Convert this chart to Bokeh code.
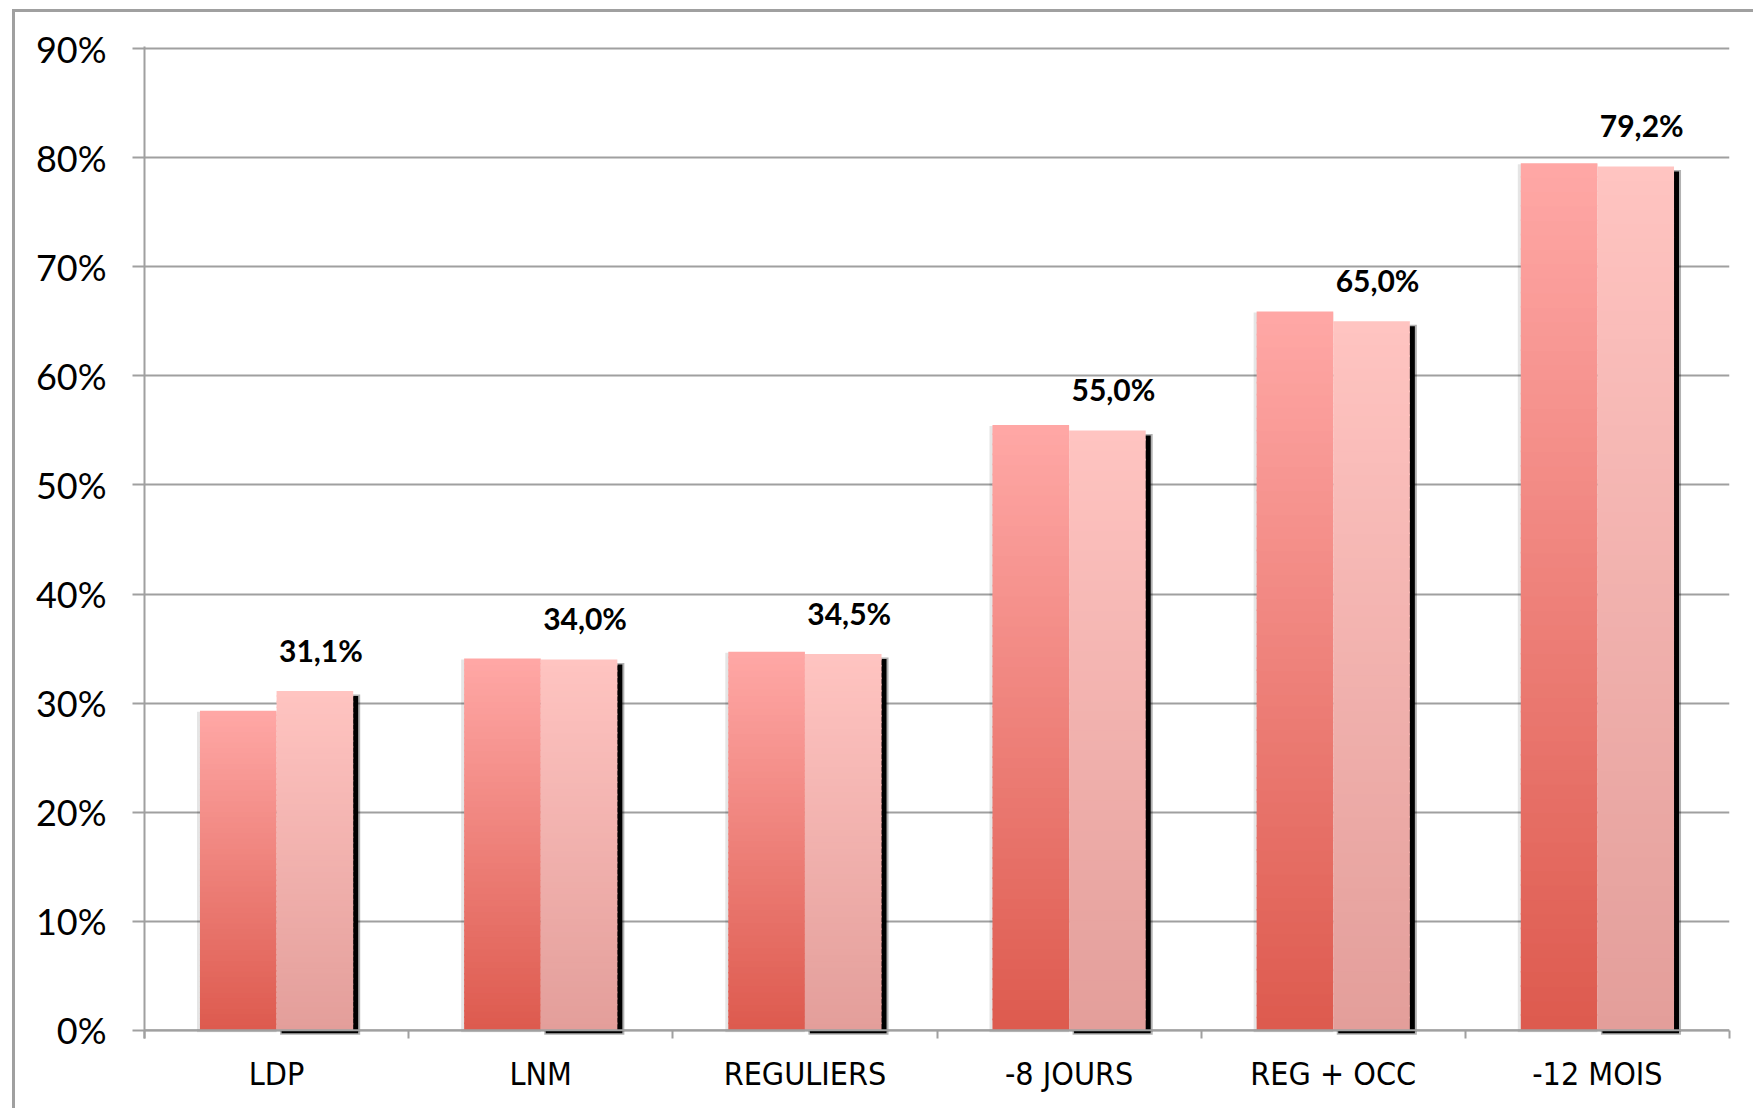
from bokeh.plotting import figure
from bokeh.models import FixedTicker, Span, ColumnDataSource
from bokeh.core.properties import value
from bokeh.embed import file_html
from bokeh.resources import INLINE

categories = ["LDP", "LNM", "REGULIERS", "-8 JOURS", "REG + OCC", "-12 MOIS"]
series_a = [29.3, 34.1, 34.7, 55.5, 65.9, 79.5]
series_b = [31.1, 34.0, 34.5, 55.0, 65.0, 79.2]
labels_b = ["31,1%", "34,0%", "34,5%", "55,0%", "65,0%", "79,2%"]
y_ticks = [0, 10, 20, 30, 40, 50, 60, 70, 80, 90]
y_tick_labels = ["0%", "10%", "20%", "30%", "40%", "50%", "60%", "70%", "80%", "90%"]

FRAME_W, FRAME_H = 1585, 992
Y0, Y1 = -0.75, 90.2
PX_X = FRAME_W / 6.0
PX_Y = FRAME_H / (Y1 - Y0)
BW = 0.29

A_TOP, A_BOT = (255, 168, 166), (221, 90, 78)
B_TOP, B_BOT = (255, 196, 193), (227, 158, 154)

p = figure(frame_width=FRAME_W, frame_height=FRAME_H,
           x_range=(0, 6), y_range=(Y0, Y1),
           output_backend="svg", toolbar_location=None,
           min_border_left=129, min_border_top=34, min_border_right=24, min_border_bottom=70)
p.styles = {"margin-left": "12px", "margin-top": "9px",
            "border-left": "3px solid #A0A0A0", "border-top": "3px solid #A0A0A0"}
p.outline_line_color = None
p.background_fill_color = "white"
p.border_fill_color = "white"
p.xgrid.grid_line_color = None
p.ygrid.grid_line_color = "#A0A0A0"
p.ygrid.grid_line_width = 2


def grad(top, bot, t):
    r = [int(round(b + (tp - b) * t)) for tp, b in zip(top, bot)]
    return "#%02x%02x%02x" % tuple(r)


N = 60
seg = dict(l=[], r=[], b=[], t=[], c=[])
sh = dict(l=[], r=[], b=[], t=[])
sh2 = dict(l=[], r=[], b=[], t=[])
sa = dict(l=[], r=[], b=[], t=[])
for i, cat in enumerate(categories):
    c = i + 0.5
    va, vb = series_a[i], series_b[i]
    dx, dy = 5 / PX_X, 5 / PX_Y
    sh["l"].append(c + dx); sh["r"].append(c + BW + dx)
    sh["t"].append(vb - dy); sh["b"].append(-3 / PX_Y)
    sh2["l"].append(c + dx - 1.5 / PX_X); sh2["r"].append(c + BW + dx + 2 / PX_X)
    sh2["t"].append(vb - dy + 1.5 / PX_Y); sh2["b"].append(-4.5 / PX_Y)
    sa["l"].append(c - BW - 3 / PX_X); sa["r"].append(c)
    sa["t"].append(va - 1 / PX_Y); sa["b"].append(-2 / PX_Y)
    for v, x0, x1, top, bot in ((va, c - BW, c, A_TOP, A_BOT), (vb, c, c + BW, B_TOP, B_BOT)):
        for k in range(N):
            y0 = v * k / N
            y1 = min(v, v * (k + 1) / N + 0.15)
            seg["l"].append(x0); seg["r"].append(x1)
            seg["b"].append(y0); seg["t"].append(y1)
            seg["c"].append(grad(top, bot, (k + 0.5) / N))

p.quad(left="l", right="r", bottom="b", top="t", source=ColumnDataSource(sa),
       fill_color="#000000", fill_alpha=0.10, line_color=None)
p.quad(left="l", right="r", bottom="b", top="t", source=ColumnDataSource(sh2),
       fill_color="#000000", fill_alpha=0.30, line_color=None)
p.quad(left="l", right="r", bottom="b", top="t", source=ColumnDataSource(sh),
       fill_color="#000000", fill_alpha=1.0, line_color=None)
p.quad(left="l", right="r", bottom="b", top="t", source=ColumnDataSource(seg),
       fill_color="c", line_color=None)

p.add_layout(Span(location=0, dimension="width", line_color="#A0A0A0", line_width=2))

lab = ColumnDataSource(dict(x=[i + 0.5 + BW / 2 + 6 / PX_X for i in range(6)],
                            y=series_b, t=labels_b))
p.text(x="x", y="y", text="t", source=lab, text_font=value("Lato"), text_font_style="bold",
       text_font_size="30px", text_color="black", text_align="center",
       text_baseline="middle", y_offset=-41)

# axes
p.xaxis.ticker = FixedTicker(ticks=[i + 0.5 for i in range(6)], minor_ticks=list(range(7)))
p.xaxis.major_label_overrides = {i + 0.5: categories[i] for i in range(6)}
p.xaxis.axis_line_color = None
p.xaxis.major_tick_line_color = None
p.xaxis.major_tick_out = 0
p.xaxis.major_tick_in = 0
p.xaxis.minor_tick_in = 8
p.xaxis.minor_tick_out = 0
p.xaxis.minor_tick_line_color = "#A0A0A0"
p.xaxis.minor_tick_line_width = 2
p.xaxis.major_label_text_font = "'DejaVu Sans Condensed', 'Liberation Sans Narrow', Roboto"
p.xaxis.major_label_text_font_size = "32px"
p.xaxis.major_label_text_color = "black"
p.xaxis.major_label_standoff = 16

p.yaxis.ticker = FixedTicker(ticks=y_ticks)
p.yaxis.major_label_overrides = {v: s for v, s in zip(y_ticks, y_tick_labels)}
p.yaxis.axis_line_color = "#A0A0A0"
p.yaxis.axis_line_width = 2
p.yaxis.major_tick_line_color = "#A0A0A0"
p.yaxis.major_tick_line_width = 2
p.yaxis.major_tick_out = 12
p.yaxis.major_tick_in = 0
p.yaxis.minor_tick_line_color = None
p.yaxis.major_label_text_font = "Lato"
p.yaxis.major_label_text_font_size = "36px"
p.yaxis.major_label_text_color = "black"
p.yaxis.major_label_standoff = 26

open("out.html", "w").write(file_html(p, INLINE))
